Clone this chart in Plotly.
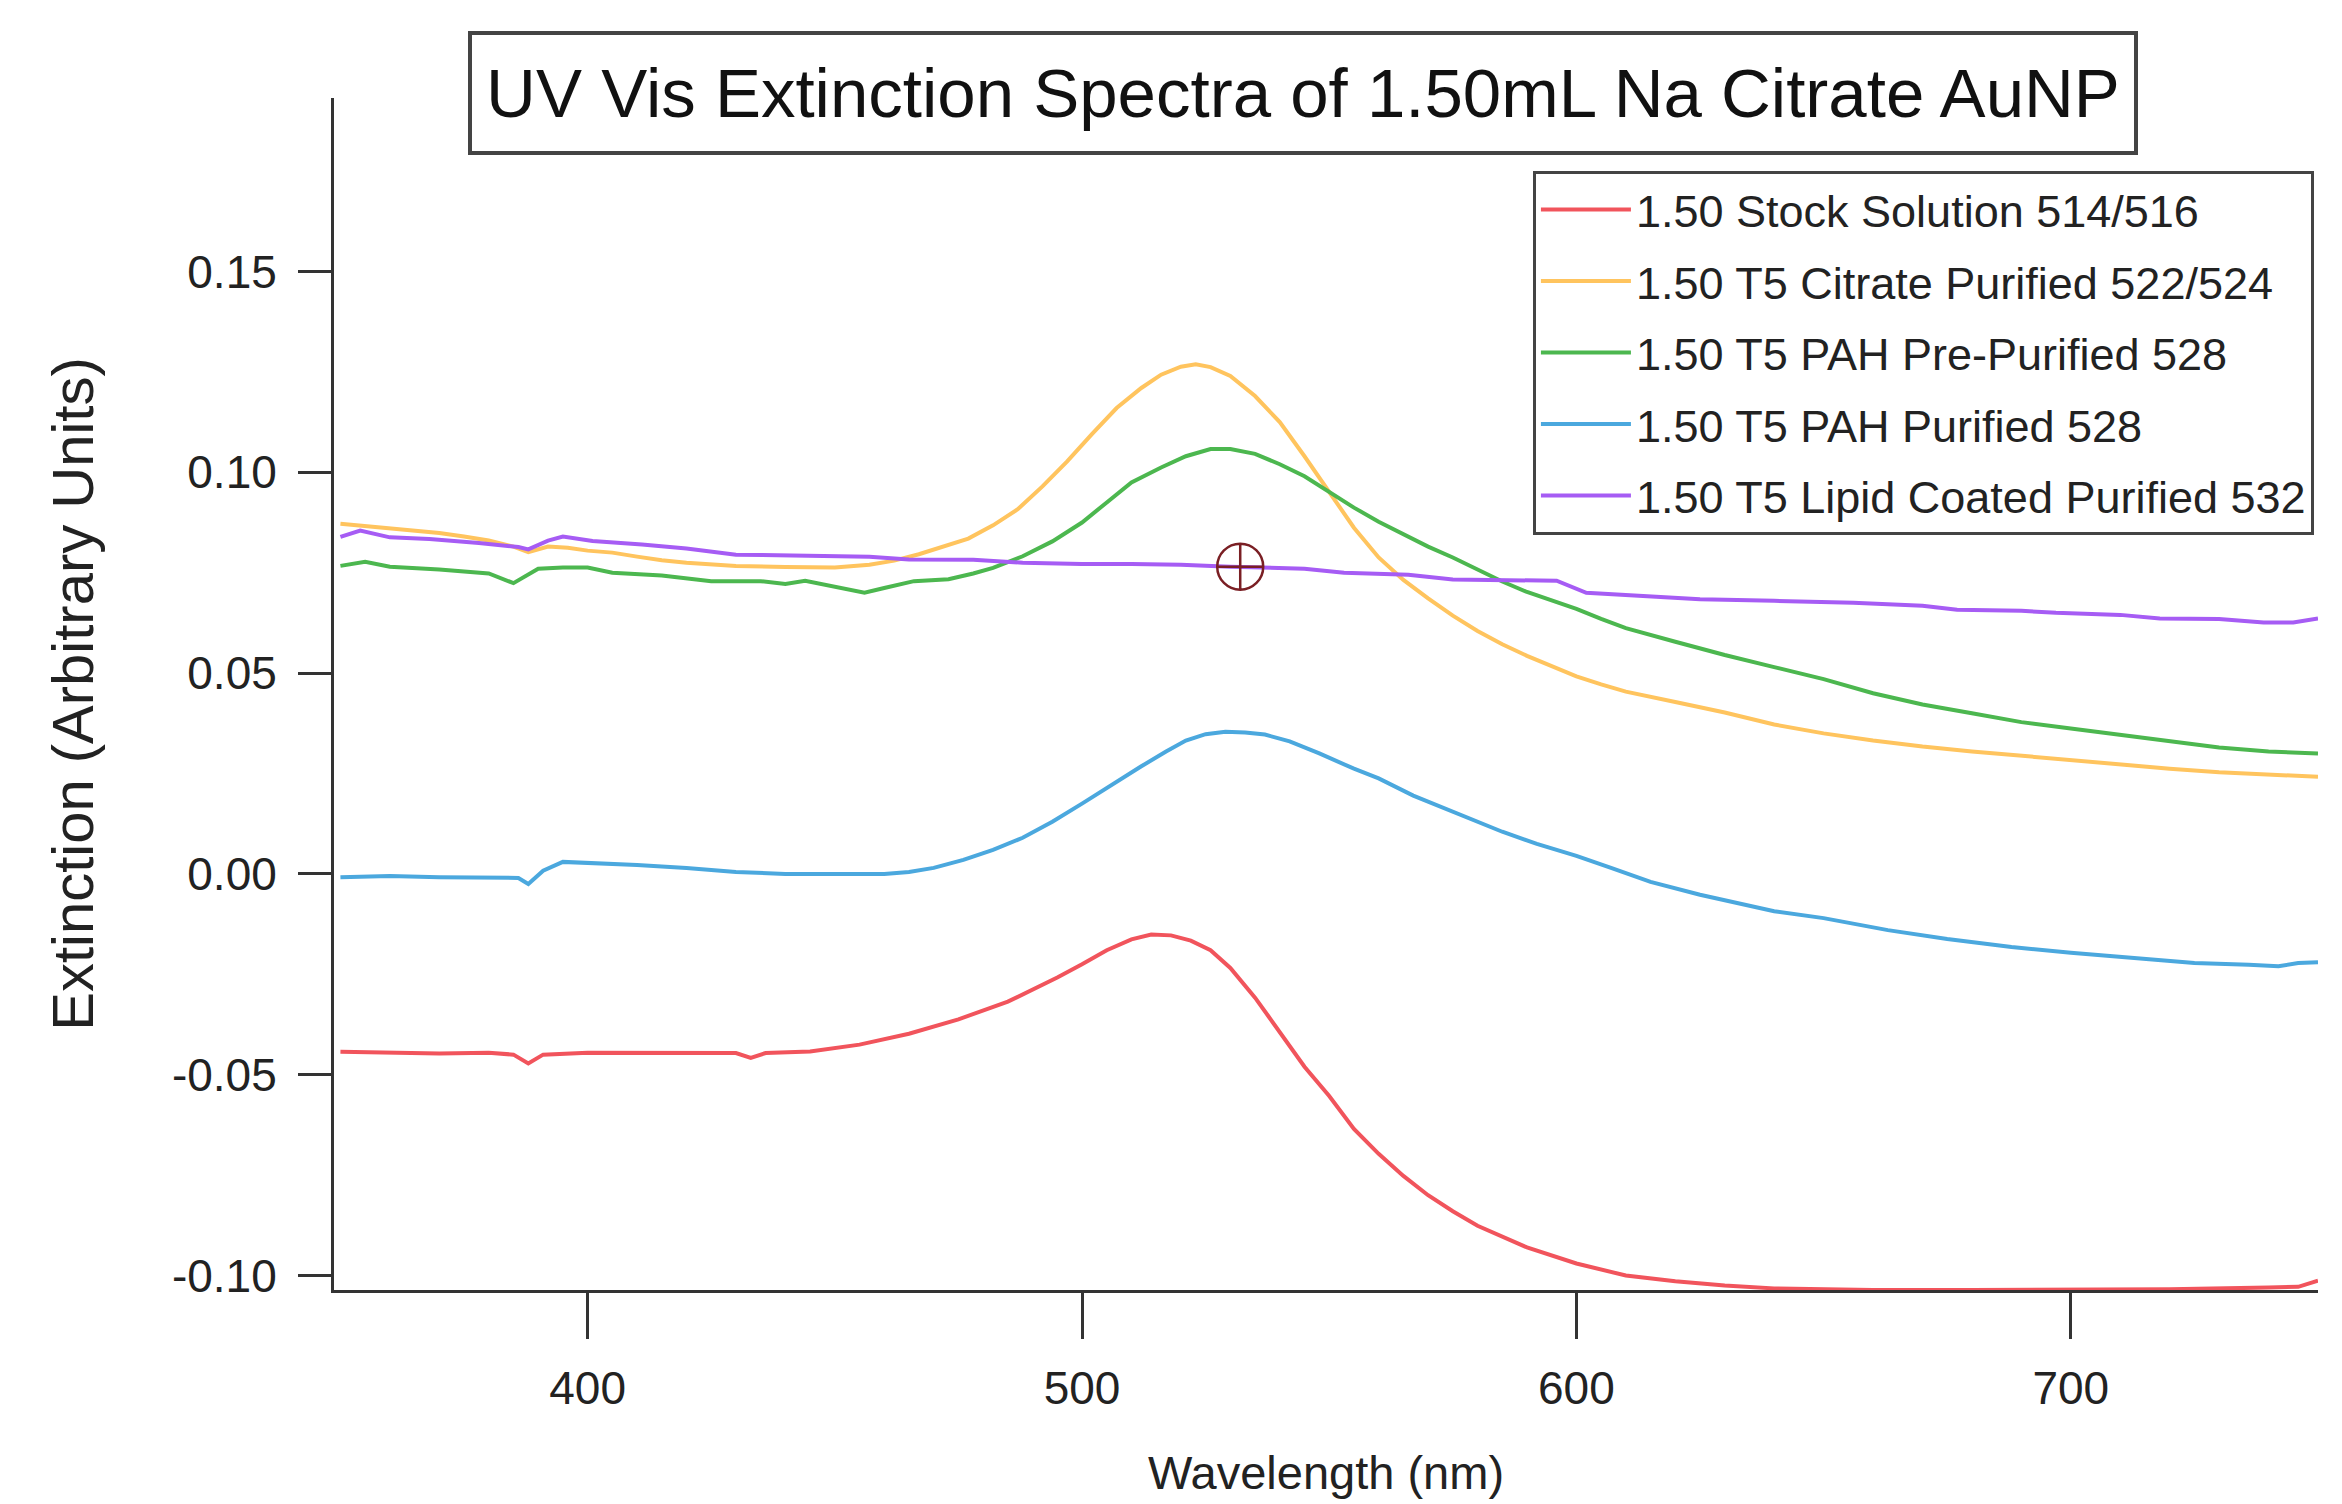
import plotly.graph_objects as go

# ---------------- data ----------------
series_names = [
    "1.50 Stock Solution 514/516",
    "1.50 T5 Citrate Purified 522/524",
    "1.50 T5 PAH Pre-Purified 528",
    "1.50 T5 PAH Purified 528",
    "1.50 T5 Lipid Coated Purified 532",
]

stock_x = [350, 360, 370, 380, 385, 388, 391, 400, 410, 420, 430, 433, 436, 445, 455, 465, 475,
           485, 495, 500, 505, 510, 514, 518, 522, 526, 530, 535, 540, 545, 550, 555, 560, 565,
           570, 575, 580, 590, 600, 610, 620, 630, 640, 660, 680, 700, 720, 740, 746, 750]
stock_y = [-0.0443, -0.0445, -0.0447, -0.0445, -0.0450, -0.0472, -0.0450, -0.0445, -0.0445,
           -0.0446, -0.0446, -0.0458, -0.0446, -0.0442, -0.0425, -0.0398, -0.0362, -0.0318,
           -0.0258, -0.0225, -0.0190, -0.0163, -0.0151, -0.0153, -0.0166, -0.0190, -0.0234,
           -0.0308, -0.0395, -0.0480, -0.0553, -0.0635, -0.0697, -0.0752, -0.0800, -0.0840,
           -0.0876, -0.0930, -0.0970, -0.1000, -0.1014, -0.1025, -0.1032, -0.1036, -0.1036,
           -0.1035, -0.1034, -0.1030, -0.1028, -0.1013]

citrate_x = [350, 355, 360, 365, 370, 375, 380, 385, 388, 392, 396, 400, 405, 410, 415, 420, 430,
             440, 450, 457, 462, 467, 472, 477, 482, 487, 492, 497, 502, 507, 512, 516, 520, 523,
             526, 530, 535, 540, 545, 550, 555, 560, 565, 570, 575, 580, 585, 590, 595, 600, 605,
             610, 620, 630, 640, 650, 660, 670, 680, 690, 700, 710, 720, 730, 740, 750]
citrate_y = [0.0872, 0.0866, 0.0862, 0.0855, 0.0849, 0.0840, 0.0830, 0.0815, 0.0801, 0.0815,
             0.0812, 0.0805, 0.0800, 0.0790, 0.0781, 0.0775, 0.0767, 0.0764, 0.0763, 0.0770,
             0.0780, 0.0796, 0.0815, 0.0835, 0.0868, 0.0908, 0.0965, 0.1027, 0.1095, 0.1160,
             0.1210, 0.1243, 0.1263, 0.1269, 0.1262, 0.1240, 0.1190, 0.1125, 0.1040, 0.0950,
             0.0862, 0.0788, 0.0732, 0.0686, 0.0643, 0.0605, 0.0572, 0.0543, 0.0517, 0.0492,
             0.0472, 0.0454, 0.0428, 0.0402, 0.0372, 0.0350, 0.0332, 0.0317, 0.0305, 0.0294,
             0.0284, 0.0272, 0.0262, 0.0253, 0.0248, 0.0242]

prepah_x = [350, 355, 360, 370, 380, 385, 390, 395, 400, 405, 415, 425, 435, 440, 444, 450, 456,
            460, 466, 473, 478, 482, 488, 494, 500, 505, 510, 516, 521, 526, 530, 535, 540, 545,
            550, 555, 560, 565, 570, 575, 580, 585, 590, 595, 600, 605, 610, 620, 630, 640, 650,
            660, 670, 680, 690, 700, 710, 720, 730, 740, 750]
prepah_y = [0.0767, 0.0777, 0.0765, 0.0758, 0.0748, 0.0724, 0.0760, 0.0763, 0.0763, 0.0750,
            0.0743, 0.0729, 0.0729, 0.0722, 0.0730, 0.0715, 0.0700, 0.0712, 0.0729, 0.0734,
            0.0748, 0.0762, 0.0791, 0.0828, 0.0875, 0.0925, 0.0975, 0.1012, 0.1040, 0.1058,
            0.1058, 0.1046, 0.1020, 0.0990, 0.0950, 0.0912, 0.0877, 0.0845, 0.0815, 0.0788,
            0.0758, 0.0728, 0.0702, 0.0682, 0.0660, 0.0635, 0.0612, 0.0578, 0.0545, 0.0515,
            0.0485, 0.0450, 0.0422, 0.0400, 0.0378, 0.0362, 0.0347, 0.0332, 0.0315, 0.0305,
            0.0300]

pah_x = [350, 360, 370, 380, 386, 388, 391, 395, 400, 410, 420, 430, 440, 450, 460, 465, 470,
         476, 482, 488, 494, 500, 506, 512, 517, 521, 525, 529, 533, 537, 542, 548, 555, 560,
         567, 575, 585, 592, 600, 607, 615, 625, 640, 650, 663, 675, 688, 700, 712, 725, 736,
         742, 746, 750]
pah_y = [-0.0008, -0.0005, -0.0008, -0.0008, -0.0010, -0.0025, 0.0008, 0.0030, 0.0028, 0.0022,
         0.0015, 0.0005, 0.0000, 0.0000, 0.0000, 0.0005, 0.0015, 0.0035, 0.0060, 0.0090,
         0.0130, 0.0175, 0.0222, 0.0268, 0.0305, 0.0332, 0.0348, 0.0354, 0.0352, 0.0347,
         0.0330, 0.0300, 0.0262, 0.0238, 0.0195, 0.0155, 0.0105, 0.0075, 0.0045, 0.0015,
         -0.0020, -0.0052, -0.0093, -0.0110, -0.0140, -0.0162, -0.0182, -0.0196, -0.0208,
         -0.0222, -0.0226, -0.0230, -0.0222, -0.0220]

lipid_x = [350, 354, 360, 368, 378, 386, 388, 392, 395, 401, 411, 420, 430, 445, 457, 465, 478,
           488, 500, 510, 520, 530, 537, 545, 553, 560, 566, 575, 585, 596, 602, 610, 617, 625,
           640, 656, 670, 677, 690, 697, 710, 718, 730, 739, 745, 750]
lipid_y = [0.0839, 0.0855, 0.0838, 0.0834, 0.0824, 0.0814, 0.0808, 0.0830, 0.0840, 0.0829,
           0.0820, 0.0810, 0.0795, 0.0793, 0.0790, 0.0783, 0.0782, 0.0775, 0.0772, 0.0772,
           0.0770, 0.0765, 0.0762, 0.0760, 0.0750, 0.0748, 0.0745, 0.0733, 0.0732, 0.0730,
           0.0700, 0.0695, 0.0690, 0.0684, 0.0680, 0.0675, 0.0668, 0.0658, 0.0655, 0.0650,
           0.0645, 0.0636, 0.0635, 0.0626, 0.0626, 0.0636]

cursor_x = [532]
cursor_y = [0.0765]

x_tick_vals = [400, 500, 600, 700]
y_tick_vals = [-0.10, -0.05, 0.00, 0.05, 0.10, 0.15]
y_tick_text = ["-0.10", "-0.05", "0.00", "0.05", "0.10", "0.15"]

title_text = "UV Vis Extinction Spectra of 1.50mL Na Citrate AuNP"
x_title = "Wavelength (nm)"
y_title = "Extinction (Arbitrary Units)"

colors = ["#f1545c", "#ffc45e", "#4cb74f", "#4ba8de", "#a65cf4"]

# ---------------- figure ----------------
FONT = "Liberation Sans, Arial, sans-serif"
TXT = "#222222"
AX = "#333333"

fig = go.Figure()
xs = [stock_x, citrate_x, prepah_x, pah_x, lipid_x]
ys = [stock_y, citrate_y, prepah_y, pah_y, lipid_y]
for name, xv, yv, c in zip(series_names, xs, ys, colors):
    fig.add_trace(go.Scatter(x=xv, y=yv, mode="lines", name=name, legendgroup=name,
                             line=dict(color=c, width=4)))

fig.add_trace(go.Scatter(x=cursor_x, y=cursor_y, mode="markers", showlegend=False,
                         marker=dict(symbol="circle-cross-open", size=46,
                                     color="#7a1f24", line=dict(width=2.5, color="#7a1f24"))))

fig.update_layout(
    width=2342, height=1504,
    paper_bgcolor="white", plot_bgcolor="white",
    margin=dict(l=326, r=32, t=90, b=222, autoexpand=False),
    font=dict(family=FONT, color=TXT),
    showlegend=True,
    legend=dict(x=0.6043, y=0.939, xanchor="left", yanchor="top",
                bgcolor="white", bordercolor="#444444", borderwidth=3,
                font=dict(family=FONT, size=45, color=TXT),
                itemwidth=90, tracegroupgap=10, traceorder="grouped"),
    annotations=[dict(text=title_text, xref="paper", yref="paper",
                      x=0.4883, y=1.0042, xanchor="center", yanchor="middle",
                      showarrow=False, font=dict(family=FONT, size=69, color="#111111"),
                      width=1656, height=110, borderpad=3,
                      bordercolor="#444444", borderwidth=4, bgcolor="white")],
)

fig.update_xaxes(range=[348.7, 750], tickvals=x_tick_vals,
                 ticks="outside", ticklen=46, tickwidth=3, tickcolor=AX,
                 showline=True, linewidth=3, linecolor=AX,
                 showgrid=False, zeroline=False, ticklabelstandoff=10,
                 tickfont=dict(family=FONT, size=46, color=TXT),
                 title=dict(text=x_title, font=dict(family=FONT, size=47, color=TXT),
                            standoff=43))
fig.update_yaxes(range=[-0.1036, 0.1932], tickvals=y_tick_vals, ticktext=y_tick_text,
                 ticks="outside", ticklen=33, tickwidth=3, tickcolor=AX,
                 showline=True, linewidth=3, linecolor=AX,
                 showgrid=False, zeroline=False, ticklabelstandoff=12,
                 tickfont=dict(family=FONT, size=46, color=TXT),
                 title=dict(text=y_title, font=dict(family=FONT, size=58, color=TXT),
                            standoff=60))

fig.write_html("out.html")
